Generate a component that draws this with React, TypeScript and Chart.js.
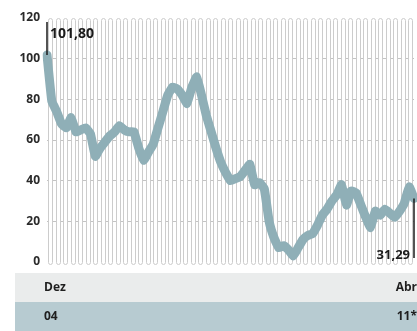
import React, { useEffect, useRef } from "react";
import { Chart, registerables } from "chart.js";

Chart.register(...registerables);

const months: string[] = Array.from({ length: 77 }, (_, i) => String(i));
const values: number[] = [
  101.8, 79, 74, 68, 66, 71, 64, 65, 66, 63,
  52, 56, 59, 62, 64, 67, 65, 64, 64, 56,
  50, 54, 58, 66, 74, 82, 86, 85, 82, 78,
  86, 91, 82, 72, 64, 56, 49, 44, 40, 41,
  42, 45, 48, 38, 39, 36, 20, 12, 7, 8,
  6, 3, 7, 11, 13, 14, 18, 23, 26, 30,
  33, 38, 28, 35, 34, 28, 22, 17, 25, 23,
  26, 24, 22, 25, 29, 37, 31.29,
];
const yTicks: number[] = [0, 20, 40, 60, 80, 100, 120];
const startLabel = "101,80";
const endLabel = "31,29";
const bandTop = ["Dez", "Abr"];
const bandBottom = ["04", "11*"];

const FONT = "'Open Sans', 'DejaVu Sans', sans-serif";

const decorPlugin = {
  id: "decor",
  beforeDatasetsDraw(chart: any) {
    const { ctx, chartArea } = chart;
    const { left, right, top, bottom } = chartArea;
    ctx.save();
    const step = 7.5;
    const w = 4;
    for (let x = left + 1; x + w <= right + 2; x += step) {
      ctx.beginPath();
      const r = 2;
      const x0 = Math.round(x) + 0.5;
      const y0 = top + 0.5;
      const y1 = bottom + 2.5;
      ctx.moveTo(x0, y1 - r);
      ctx.lineTo(x0, y0 + r);
      ctx.arcTo(x0, y0, x0 + r, y0, r);
      ctx.arcTo(x0 + w, y0, x0 + w, y0 + r, r);
      ctx.lineTo(x0 + w, y1 - r);
      ctx.arcTo(x0 + w, y1, x0 + w - r, y1, r);
      ctx.arcTo(x0, y1, x0, y1 - r, r);
      ctx.closePath();
      ctx.fillStyle = "#ffffff";
      ctx.fill();
      ctx.strokeStyle = "#cccccc";
      ctx.lineWidth = 1;
      ctx.stroke();
    }
    ctx.restore();
  },
  afterDatasetsDraw(chart: any) {
    const { ctx } = chart;
    const xs = chart.scales.x;
    const ys = chart.scales.y;
    ctx.save();
    ctx.strokeStyle = "#1a1a1a";
    ctx.lineWidth = 1.5;
    const x0 = xs.getPixelForValue(0);
    ctx.beginPath();
    ctx.moveTo(x0, ys.getPixelForValue(118));
    ctx.lineTo(x0, ys.getPixelForValue(values[0]));
    ctx.stroke();
    ctx.fillStyle = "#1a1a1a";
    ctx.font = `bold 14px ${FONT}`;
    ctx.textAlign = "left";
    ctx.textBaseline = "middle";
    ctx.fillText(startLabel, x0 + 3, ys.getPixelForValue(112));
    const xe = xs.getPixelForValue(values.length - 1);
    ctx.beginPath();
    ctx.moveTo(xe, ys.getPixelForValue(values[values.length - 1]));
    ctx.lineTo(xe, ys.getPixelForValue(2));
    ctx.stroke();
    ctx.font = `bold 13px ${FONT}`;
    ctx.textAlign = "right";
    ctx.fillText(endLabel, xe - 4, ys.getPixelForValue(3.5));
    ctx.restore();
  },
  afterDraw(chart: any) {
    const { ctx, width } = chart;
    ctx.save();
    ctx.fillStyle = "#eaecec";
    ctx.fillRect(15, 273, width - 15, 29);
    ctx.fillStyle = "#b7cbd1";
    ctx.fillRect(15, 302, width - 15, 29);
    ctx.fillStyle = "#1f1f1f";
    ctx.font = `bold 12px ${FONT}`;
    ctx.textBaseline = "middle";
    ctx.textAlign = "left";
    ctx.fillText(bandTop[0], 44, 288);
    ctx.fillText(bandBottom[0], 44, 317);
    ctx.textAlign = "right";
    ctx.fillText(bandTop[1], width, 288);
    ctx.fillText(bandBottom[1], width, 317);
    ctx.restore();
  },
};

export default function App() {
  const ref = useRef<HTMLCanvasElement>(null);
  useEffect(() => {
    document.body.style.margin = "0";
    const chart = new Chart(ref.current!, {
      type: "line",
      data: {
        labels: months,
        datasets: [
          {
            data: values,
            borderColor: "#8fafb7",
            borderWidth: 9,
            pointRadius: 0,
            tension: 0.1,
            borderJoinStyle: "round",
            borderCapStyle: "round",
            fill: false,
          },
        ],
      },
      options: {
        animation: false,
        responsive: false,
        maintainAspectRatio: false,
        layout: { padding: { left: 0, right: 3, top: 18, bottom: 69 } },
        plugins: { legend: { display: false }, tooltip: { enabled: false }, title: { display: false } },
        scales: {
          x: { type: "category", display: false, offset: false },
          y: {
            min: 0,
            max: 120,
            afterFit: (s: any) => {
              s.width = 47;
            },
            afterBuildTicks: (s: any) => {
              s.ticks = yTicks.map((v) => ({ value: v }));
            },
            border: { display: false },
            grid: {
              color: (c: any) => (c.tick && c.tick.value > 0 && c.tick.value < 120 ? "#c4c4c4" : "rgba(0,0,0,0)"),
              drawTicks: false,
              lineWidth: 1,
            },
            ticks: {
              padding: 7,
              color: "#2a2a2a",
              font: { family: FONT, weight: "bold", size: 12 },
            },
          },
        },
      },
      plugins: [decorPlugin],
    });
    return () => chart.destroy();
  }, []);
  return (
    <div style={{ position: "absolute", left: 0, top: 0, width: 417, height: 331 }}>
      <canvas ref={ref} width={417} height={331} />
    </div>
  );
}
